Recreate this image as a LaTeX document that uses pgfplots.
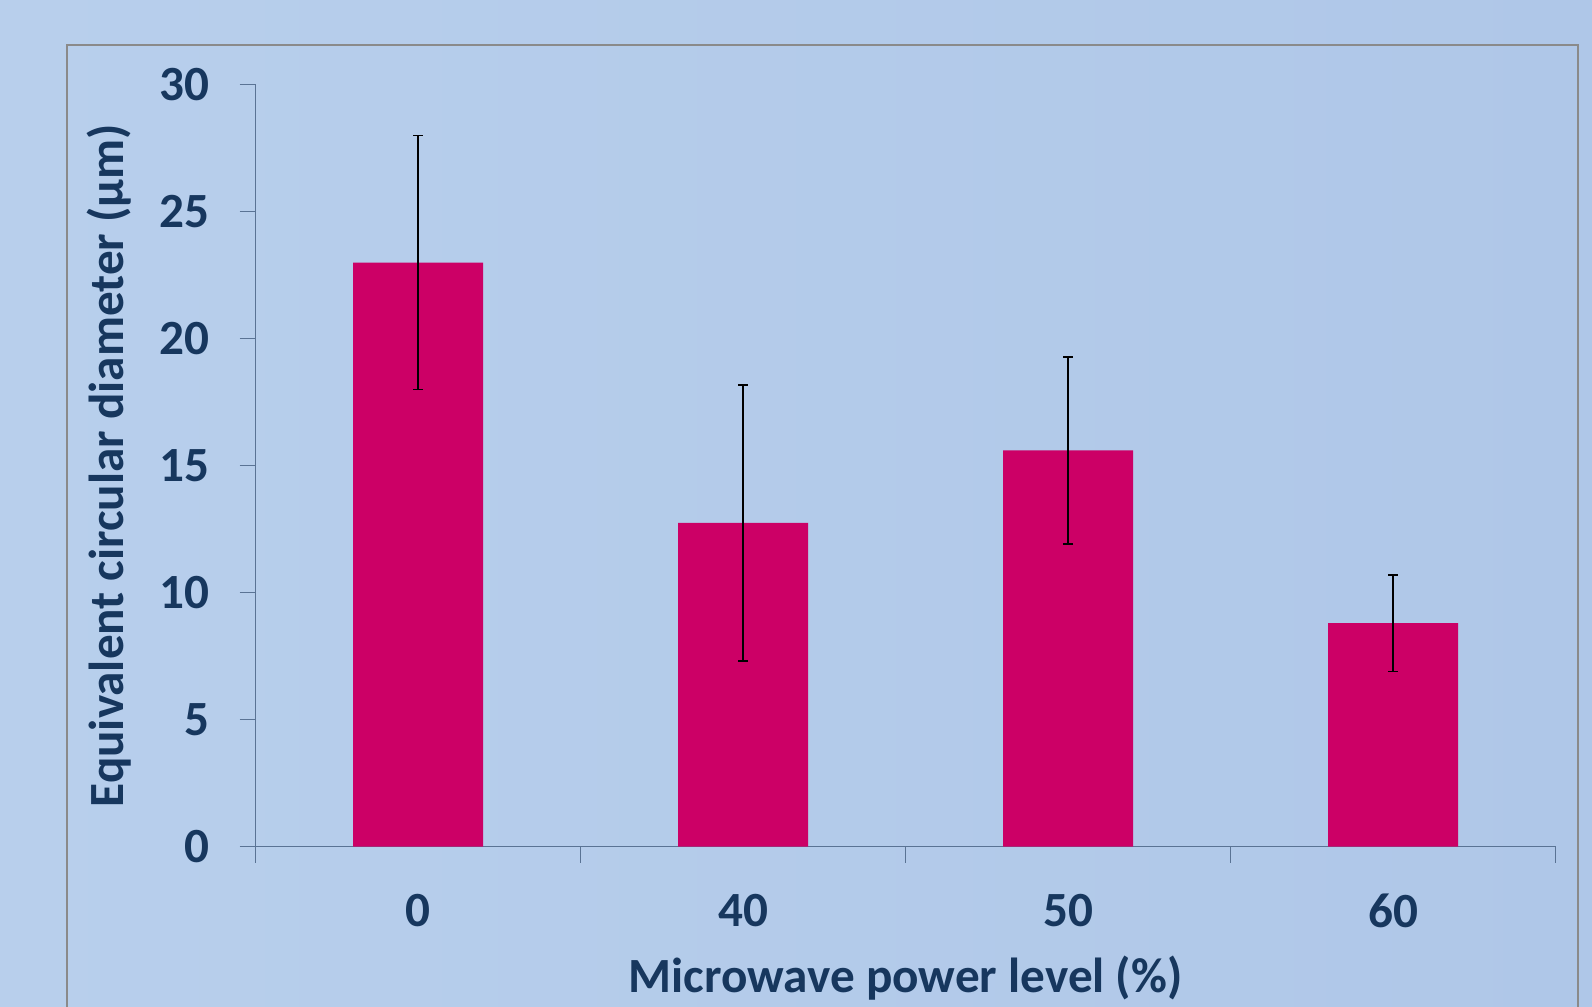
\documentclass[border=0pt]{standalone}
\usepackage{pgfplots}
\pgfplotsset{compat=1.18}
\usepackage{fontspec}
\setmainfont{Carlito}
\definecolor{bgL}{HTML}{B8CFEC}
\definecolor{bgR}{HTML}{AFC7E8}
\definecolor{frame}{HTML}{8A8A8A}
\definecolor{axcol}{HTML}{5A7394}
\definecolor{txt}{HTML}{17375E}
\definecolor{barc}{HTML}{CC0066}
\begin{document}
\begin{tikzpicture}
\useasboundingbox (0,0) rectangle (15.92cm,10.07cm);
\clip (0,0) rectangle (15.92cm,10.07cm);
\shade[left color=bgL, right color=bgR] (0,0) rectangle (15.92cm,10.07cm);
\draw[frame, line width=0.13mm] (0.67cm,-0.5cm) -- (0.67cm,9.62cm) -- (15.78cm,9.62cm) -- (15.78cm,-0.5cm);
\begin{axis}[
  at={(2.557cm,1.603cm)}, anchor=south west,
  scale only axis, width=13cm, height=7.62cm,
  xmin=-0.5, xmax=3.5, ymin=0, ymax=30,
  axis x line*=bottom, axis y line*=left,
  axis line style={axcol, line width=0.15mm, -},
  every tick/.style={axcol, line width=0.15mm},
  tick align=outside,
  xtick={0,1,2,3}, xticklabels={0,40,50,60},
  minor xtick={-0.5,0.5,1.5,2.5,3.5},
  major x tick style={draw=none},
  minor tick length=0.16cm,
  major tick length=0.16cm,
  ytick={0,5,10,15,20,25,30},
  font=\fontsize{14}{16}\selectfont\bfseries,
  /pgf/number format/assume math mode=true,
  ticklabel style={txt, font=\fontsize{14}{16}\selectfont\bfseries},
  xticklabel style={yshift=-0.19cm},
  yticklabel style={xshift=-0.18cm},
  xlabel={Microwave power level (\%)},
  ylabel={Equivalent circular diameter (µm)},
  xlabel style={txt, at={(axis description cs:0.5,-0.1719)}, anchor=center, font=\fontsize{14}{16}\selectfont\bfseries},
  ylabel style={txt, at={(axis description cs:-0.11285,0.5)}, anchor=center, font=\fontsize{14}{16}\selectfont\bfseries},
  clip=false,
]
\addplot[ybar, bar width=1.3cm, fill=barc, draw=none,
  error bars/.cd, y dir=both, y explicit,
  error bar style={black, line width=0.15mm},
  error mark options={black, rotate=90, mark size=0.05cm, line width=0.15mm}]
  coordinates {
  (0,23.0) +- (0,5.0)
  (1,12.75) +- (0,5.43)
  (2,15.6) +- (0,3.68)
  (3,8.8) +- (0,1.9)
  };
\end{axis}
\end{tikzpicture}
\end{document}
